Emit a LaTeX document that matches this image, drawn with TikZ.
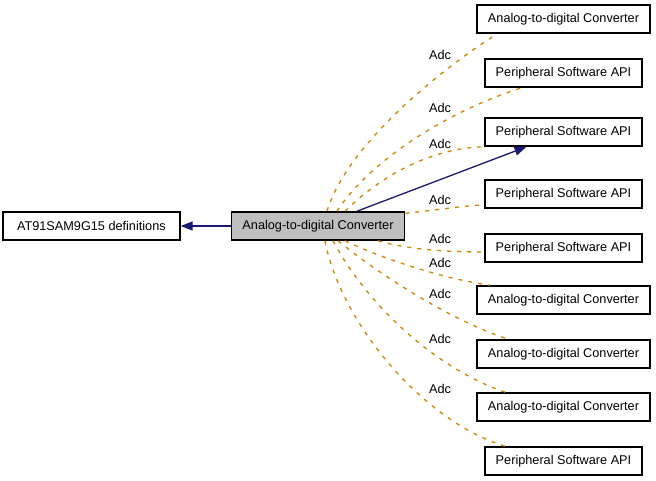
\documentclass[tikz,border=0pt]{standalone}
\usepackage{fontspec}
\setmainfont{Liberation Sans}
\usepackage{tikz}
\usetikzlibrary{positioning,arrows.meta}
\definecolor{convgray}{RGB}{191,191,191}
\definecolor{usenavy}{RGB}{25,25,112}
\definecolor{adcorange}{RGB}{204,136,0}

\begin{document}
\begin{tikzpicture}[x=1pt,y=-1pt,
    box/.style={draw=black,line width=1.6pt,fill=white,minimum height=28pt,
      inner xsep=11pt,inner ysep=0pt,font=\fontsize{12.7}{14}\selectfont},
    here/.style={box,fill=convgray},
    uses/.style={draw=usenavy,line width=1.3pt,-{Triangle[length=12pt,width=9pt]}},
    member/.style={draw=adcorange,line width=1.3pt,dash pattern=on 4pt off 6pt},
    lbl/.style={font=\fontsize{12.7}{14}\selectfont,inner sep=0pt}]
	  \useasboundingbox (0,0) rectangle (656,481);

	  \node[here] (conv) at (318,226) {Analog-to-digital Converter} ; %
	  \node[box, minimum width=177pt, left=50pt of conv] (defs) {AT91SAM9G15 definitions};

          \node[box] (adcA) at (563.5,19) {Analog-to-digital Converter} ; %
          \node[box] (apiA) at (563.5,73) {Peripheral Software API};
          \node[box] (apiB) at (563.5,132) {Peripheral Software API};
          \node[box] (apiC) at (563.5,194) {Peripheral Software API};
          \node[box] (apiD) at (563.5,248) {Peripheral Software API};
          \node[box] (adcB) at (563.5,300) {Analog-to-digital Converter};
          \node[box] (adcC) at (563.5,354) {Analog-to-digital Converter};
          \node[box] (adcD) at (563.5,407) {Analog-to-digital Converter};
          \node[box] (apiE) at (563.5,461) {Peripheral Software API};

          \draw[uses] (conv) -- (defs) ; %
          \draw[uses] ([xshift=39pt]conv.north) -- ([xshift=-37pt]apiB.south);

          \draw[member] ([xshift=9pt]conv.north) .. controls (347,145) and (440,70) .. ([xshift=21pt]adcA.south west)
            node[lbl] at (440,55) {Adc};
          \draw[member] ([xshift=19pt]conv.north) .. controls (370,160) and (450,110) .. ([xshift=38pt]apiA.south west)
            node[lbl] at (440,108) {Adc};
          \draw[member] ([xshift=27pt]conv.north) .. controls (385,172) and (435,148) .. (apiB.south west)
            node[lbl] at (440,144) {Adc};
          \draw[member] ([yshift=-2pt]conv.north east) .. controls (430,211) and (460,206) .. ([yshift=4pt]apiC.south west)
            node[lbl] at (440,200) {Adc};
          \draw[member] ([xshift=60pt]conv.south) .. controls (410,250) and (450,252) .. ([yshift=-4pt]apiD.west)
            node[lbl] at (440,239) {Adc};
          \draw[member] ([xshift=27pt]conv.south) .. controls (390,262) and (450,280) .. ([xshift=14pt]adcB.north west)
            node[lbl] at (440,263) {Adc};
          \draw[member] ([xshift=20pt]conv.south) .. controls (380,275) and (450,320) .. ([xshift=32pt]adcC.north west)
            node[lbl] at (440,294) {Adc};
          \draw[member] ([xshift=15pt]conv.south) .. controls (370,310) and (440,370) .. ([xshift=29pt]adcD.north west)
            node[lbl] at (440,339) {Adc};
          \draw[member] ([xshift=7pt]conv.south) .. controls (340,320) and (420,420) .. ([xshift=21pt]apiE.north west)
            node[lbl] at (440,389) {Adc};

	\end{tikzpicture}
\end{document}
